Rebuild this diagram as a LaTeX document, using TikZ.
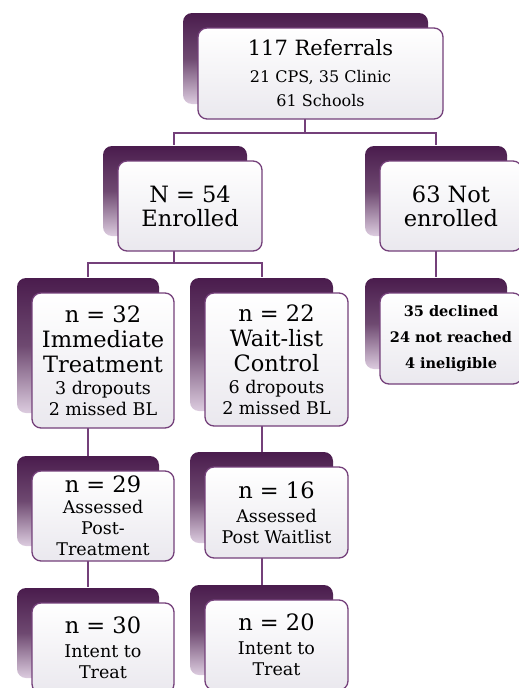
\documentclass[tikz,border=0pt]{standalone}
\usepackage{fontspec}
\setmainfont{DejaVu Serif}
\usetikzlibrary{shadows}
\definecolor{edge}{HTML}{74407A}
\definecolor{tabdark}{HTML}{4A1C4D}
\definecolor{tablight}{HTML}{DCCCDF}
\definecolor{boxlow}{HTML}{EAE8EE}
\newcommand{\hd}{\fontsize{22.5}{26}\selectfont}
\newcommand{\sm}{\fontsize{17.5}{21}\selectfont}
\tikzset{
  box/.style={rectangle, rounded corners=9pt, draw=edge, line width=1.3pt,
    top color=white, bottom color=boxlow, align=center, inner sep=0pt,
    minimum width=142pt, font=\sm,
    general shadow={shadow xshift=-15pt, shadow yshift=15pt,
      top color=tabdark, bottom color=tablight, middle color=tabdark!80}},
  link/.style={draw=edge, line width=1.4pt},
}
\begin{document}
\begin{tikzpicture}[x=1pt, y=-1pt]
  \useasboundingbox (0,0) rectangle (519,688);
  \clip (0,0) rectangle (519,688);

  % links first, boxes on top
  \coordinate (top) at (305,119);
  \draw[link] (top) -- ++(0,14) -| (174,145);
  \draw[link] (305,133) -| (436,145);
  \draw[link] (174,251) -- ++(0,12) -| (88,277);
  \draw[link] (174,263) -| (262,277);
  \draw[link] (436,251) -- (436,277);
  \draw[link] (88,428) -- (88,456);
  \draw[link] (262,426) -- (262,453);
  \draw[link] (88,561) -- (88,587);
  \draw[link] (262,558) -- (262,585);

  \node[box, minimum width=245pt, minimum height=91pt] (ref) at (320.5,73.5)
    {{\fontsize{21}{26}\selectfont 117 Referrals}\\[6pt] {\fontsize{16}{20}\selectfont 21 CPS, 35 Clinic}\\[3pt]
     {\fontsize{16}{20}\selectfont 61 Schools}};
  \node[box, minimum width=144pt, minimum height=90pt] (enr) at (190,206)
    {\hd N = 54\\[3pt] \hd Enrolled};
  \node[box, minimum height=90pt] (notenr) at (451,206)
    {\hd 63 Not\\[3pt] \hd enrolled};

  \node[box, minimum height=135pt] (imm) at (103,360.5)
    {\hd n = 32\\[4pt] \hd Immediate\\[4pt] \hd Treatment\\[1pt] 3 dropouts\\ 2 missed BL};
  \node[box, minimum width=143pt, minimum height=133pt] (wait) at (276.5,359.5)
    {\hd n = 22\\[4pt] \hd Wait-list\\[4pt] \hd Control\\[1pt] 6 dropouts\\ 2 missed BL};
  \node[box, minimum height=91pt, font=\fontsize{14.5}{26}\selectfont\bfseries] (decl) at (451,338.5)
    {35 declined\\ 24 not reached\\ 4 ineligible};

  \node[box, minimum height=90pt] (post1) at (103,516)
    {{\hd n = 29}\\ Assessed\\ Post-\\ Treatment};
  \node[box, minimum width=143pt, minimum height=91pt] (post2) at (276.5,512.5)
    {{\hd n = 16}\\[3pt] Assessed\\ Post Waitlist};

  \node[box, minimum height=90pt] (itt1) at (103,648)
    {{\hd n = 30}\\[3pt] Intent to\\ Treat};
  \node[box, minimum width=143pt, minimum height=90pt] (itt2) at (276.5,645)
    {{\hd n = 20}\\[3pt] Intent to\\ Treat};
\end{tikzpicture}
\end{document}
